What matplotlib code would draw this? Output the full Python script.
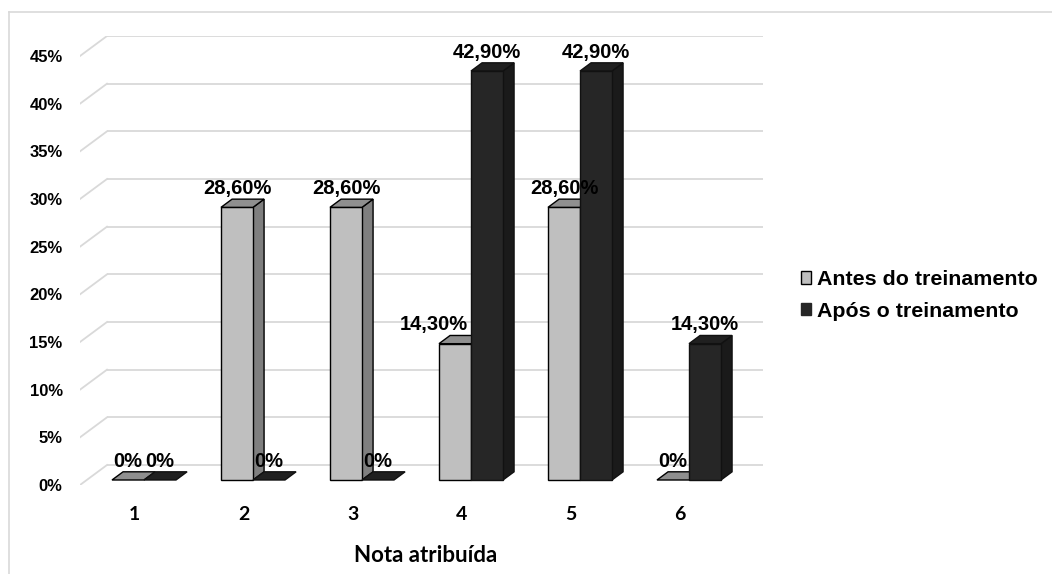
import matplotlib
matplotlib.use('Agg')
from matplotlib import pyplot as plt
from matplotlib.patches import Polygon, Patch
from matplotlib.lines import Line2D


notas = [1, 2, 3, 4, 5, 6]
antes = [0, 28.6, 28.6, 14.3, 28.6, 0]
apos = [0, 0, 0, 42.9, 42.9, 14.3]
series_names = ["Antes do treinamento", "Após o treinamento"]
y_ticks = [0, 5, 10, 15, 20, 25, 30, 35, 40, 45]

# face colours: front, side, top
COLORS = [
    ("#bfbfbf", "#7f7f7f", "#8f8f8f"),
    ("#262626", "#1a1a1a", "#202020"),
]
EDGES = ["#000000", "#111111"]
GRID = "#d9d9d9"

W, H = 1052, 574
fig = plt.figure(figsize=(W / 100, H / 100), dpi=100)

# plot box in pixels: front floor at y=485, back wall right edge at x=763
left_px, right_px, base_px, top_px = 80, 763, 485, 36
ax = fig.add_axes([left_px / W, (H - base_px) / H,
                   (right_px - left_px) / W, (base_px - top_px) / H])

px_per_cat = 109.0
px_per_pct = 429 / 45.0
xmax = 0.5 + (right_px - left_px) / px_per_cat
ymax = (base_px - top_px) / px_per_pct
ax.set_xlim(0.5, xmax)
ax.set_ylim(0, ymax)
for s in ax.spines.values():
    s.set_visible(False)

# oblique depth of the floor and of each bar
DX = 27 / px_per_cat
DY = 20 / px_per_pct
bar_front = 0.25
bar_depth = 0.41
bar_w = 32 / px_per_cat
shift = 2.75 / px_per_cat

# walls: back gridlines plus the diagonal lines on the side wall
for v in y_ticks:
    ax.plot([0.5 + DX, xmax], [v + DY, v + DY], color=GRID, lw=1.3, zorder=1,
            solid_capstyle='butt')
    ax.plot([0.5, 0.5 + DX], [v, v + DY], color=GRID, lw=1.3, zorder=1)


def bar3d(x0, h, cols, edge, z):
    fx, fy = bar_front * DX, bar_front * DY
    dx, dy = bar_depth * DX, bar_depth * DY
    xl, xr = x0 + fx, x0 + fx + bar_w
    yb, yt = fy, fy + h
    front = [(xl, yb), (xr, yb), (xr, yt), (xl, yt)]
    side = [(xr, yb), (xr + dx, yb + dy), (xr + dx, yt + dy), (xr, yt)]
    top = [(xl, yt), (xr, yt), (xr + dx, yt + dy), (xl + dx, yt + dy)]
    kw = dict(edgecolor=edge, lw=1.0, joinstyle='miter', zorder=z)
    if h > 0:
        ax.add_patch(Polygon(side, closed=True, facecolor=cols[1], **kw))
        ax.add_patch(Polygon(front, closed=True, facecolor=cols[0], **kw))
    ax.add_patch(Polygon(top, closed=True, facecolor=cols[2], **kw))
    return (xl + xr) / 2, yt


def fmt(v):
    return "0%" if v == 0 else ("%.2f%%" % v).replace(".", ",")


label_nudge = {(0, 3): -21}

z = 3
for i, k in enumerate(notas):
    for s, vals in enumerate([antes, apos]):
        x0 = k + shift - bar_w + s * bar_w
        cx, ty = bar3d(x0, vals[i], COLORS[s], EDGES[s], z)
        z += 1
        ax.annotate(fmt(vals[i]), (cx, ty), xytext=(label_nudge.get((s, i), 0) * 0.72, 9.5),
                    textcoords='offset points', ha='center', va='baseline',
                    fontsize=14.5, fontweight='bold', family='Liberation Sans',
                    zorder=20, annotation_clip=False)

ax.set_yticks(y_ticks)
ax.set_yticklabels(["%d%%" % v for v in y_ticks], fontsize=12, fontweight='bold',
                   family='Liberation Sans')
ax.set_xticks(notas)
ax.set_xticklabels([str(n) for n in notas], fontsize=14, fontweight='bold', family='Lato')
ax.tick_params(axis='y', length=0, pad=12.5)
ax.tick_params(axis='x', length=0, pad=15)

ax.set_xlabel("Nota atribuída", fontsize=16, fontweight='bold', family='Lato')
ax.xaxis.label.set_va('center')
ax.xaxis.set_label_coords((426 - left_px) / (right_px - left_px), (base_px - 555) / (base_px - top_px))

handles = [Patch(facecolor=COLORS[0][0], edgecolor='#000000', lw=1.0),
           Patch(facecolor=COLORS[1][0], edgecolor=COLORS[1][0], lw=1.0)]
fig.legend(handles, series_names, loc='center left', bbox_to_anchor=(790 / W, 1 - 295.5 / H),
           frameon=False, borderpad=0, handlelength=0.5, handleheight=0.5,
           handletextpad=0.25, labelspacing=0.6,
           prop={'family': 'Liberation Sans', 'weight': 'bold', 'size': 15.4})

# light outer frame
fig.add_artist(Line2D([9.5 / W, 9.5 / W], [0, 1 - 11.5 / H], color=GRID, lw=1.2))
fig.add_artist(Line2D([9.5 / W, 1], [1 - 11.5 / H, 1 - 11.5 / H], color=GRID, lw=1.2))

fig.savefig("out.png", dpi=100, facecolor='white')
